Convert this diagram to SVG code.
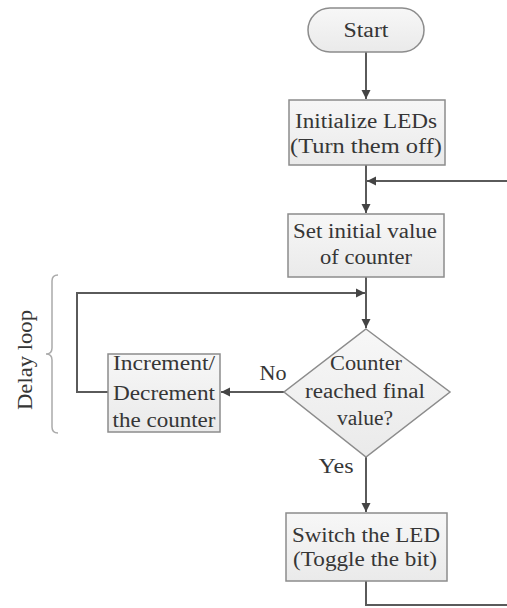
<svg xmlns="http://www.w3.org/2000/svg" width="507" height="608" viewBox="0 0 507 608">
<style>
.t{font-family:"Liberation Serif","Times New Roman",serif;font-size:20px;fill:#363636;text-anchor:middle}
.box{fill:url(#g);stroke:#8c8c8c;stroke-width:1.5}
.ln{fill:none;stroke:#5a5a5a;stroke-width:2}
</style>
<defs>
<linearGradient id="g" x1="0" y1="0" x2="0" y2="1"><stop offset="0" stop-color="#f7f7f7"/><stop offset="1" stop-color="#eaeaea"/></linearGradient>
<marker id="ah" markerUnits="userSpaceOnUse" markerWidth="10" markerHeight="10" refX="9" refY="5" orient="auto"><path d="M0,0.5 L9,5 L0,9.5 z" fill="#444"/></marker>
</defs>
<rect width="507" height="608" fill="#fff"/>
<g id="connectors">
<path class="ln" d="M366,52 V99" marker-end="url(#ah)"/>
<path class="ln" d="M366,165 V213" marker-end="url(#ah)"/>
<path class="ln" d="M366,581 V605 H509 V181 H367" marker-end="url(#ah)"/>
<path class="ln" d="M366,277 V328" marker-end="url(#ah)"/>
<path class="ln" d="M108,392 H77 V293 H365" marker-end="url(#ah)"/>
<path class="ln" d="M284,392 H221" marker-end="url(#ah)"/>
<path class="ln" d="M366,457 V512" marker-end="url(#ah)"/>
</g>
<g id="start">
<rect x="308" y="8" width="116" height="44" rx="22" ry="22" class="box"/>
<text class="t" x="366" y="37" textLength="45" lengthAdjust="spacingAndGlyphs">Start</text>
</g>
<g id="init">
<rect x="289" y="100" width="156" height="65" class="box"/>
<text class="t" x="366" y="128" textLength="142" lengthAdjust="spacingAndGlyphs">Initialize LEDs</text>
<text class="t" x="366" y="153" textLength="152" lengthAdjust="spacingAndGlyphs">(Turn them off)</text>
</g>
<g id="setinit">
<rect x="288" y="214" width="156" height="63" class="box"/>
<text class="t" x="365" y="238" textLength="144" lengthAdjust="spacingAndGlyphs">Set initial value</text>
<text class="t" x="366" y="264" textLength="92" lengthAdjust="spacingAndGlyphs">of counter</text>
</g>
<g id="decision">
<polygon points="366,329 450,392 366,457 284,392" class="box"/>
<text class="t" x="366" y="370" textLength="72" lengthAdjust="spacingAndGlyphs">Counter</text>
<text class="t" x="365" y="398" textLength="120" lengthAdjust="spacingAndGlyphs">reached final</text>
<text class="t" x="365" y="425" textLength="56" lengthAdjust="spacingAndGlyphs">value?</text>
</g>
<g id="increment">
<rect x="108" y="354" width="112" height="78" class="box"/>
<text class="t" x="164" y="370" textLength="102" lengthAdjust="spacingAndGlyphs">Increment/</text>
<text class="t" x="164" y="400" textLength="102" lengthAdjust="spacingAndGlyphs">Decrement</text>
<text class="t" x="164" y="427" textLength="103" lengthAdjust="spacingAndGlyphs">the counter</text>
</g>
<g id="switch">
<rect x="286" y="513" width="161" height="68" class="box"/>
<text class="t" x="366" y="542" textLength="148" lengthAdjust="spacingAndGlyphs">Switch the LED</text>
<text class="t" x="365" y="566" textLength="144" lengthAdjust="spacingAndGlyphs">(Toggle the bit)</text>
</g>
<g id="labels">
<text class="t" x="273" y="380" textLength="27" lengthAdjust="spacingAndGlyphs">No</text>
<text class="t" x="336" y="473" textLength="35" lengthAdjust="spacingAndGlyphs">Yes</text>
</g>
<g id="delay-loop">
<path d="M58,275 Q52,275 52,281 L52,348 Q52,354 46,354 Q52,354 52,360 L52,427 Q52,433 58,433" fill="none" stroke="#aaa" stroke-width="1.5"/>
<text class="t" transform="translate(32,360) rotate(-90)" x="0" y="0" textLength="100" lengthAdjust="spacingAndGlyphs">Delay loop</text>
</g>
</svg>
